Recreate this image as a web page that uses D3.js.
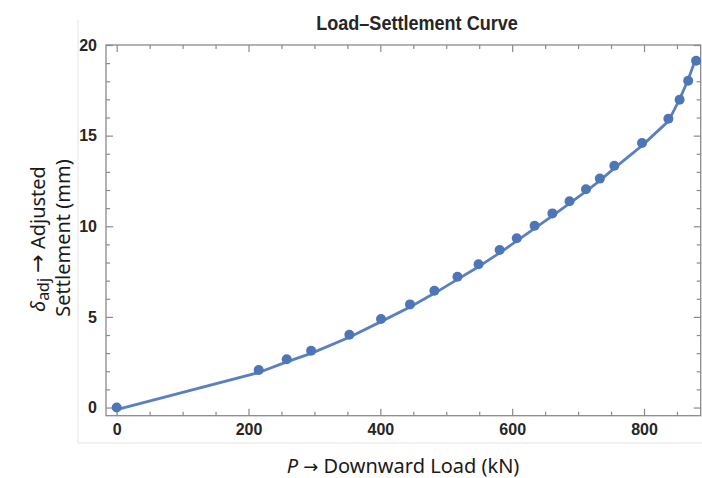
<!DOCTYPE html>
<html>
<head>
<meta charset="utf-8">
<script src="https://cdn.jsdelivr.net/npm/d3@7"></script>
<style>
  html, body { margin: 0; padding: 0; background: #fff; }
  svg { display: block; }
</style>
</head>
<body>
<svg id="chart" width="702" height="478"></svg>
<script>
// Measured load test: downward load P (kN) and adjusted settlement (mm)
const loads       = [0, 215.5, 258, 295, 353, 401, 445, 482, 517, 549, 581, 607, 634, 661, 687, 712, 733, 755, 797, 837, 854, 867, 879];
const settlements = [0, 2.07, 2.66, 3.13, 4.02, 4.88, 5.69, 6.44, 7.22, 7.90, 8.69, 9.34, 10.03, 10.71, 11.38, 12.04, 12.63, 13.34, 14.59, 15.93, 16.98, 18.03, 19.13];
// Fitted settlement curve at the same loads
const fitted      = [-0.11, 1.93, 2.52, 2.99, 3.88, 4.74, 5.55, 6.3, 7.07, 7.77, 8.53, 9.19, 9.88, 10.57, 11.26, 11.93, 12.52, 13.21, 14.45, 15.8, 17.0, 18.1, 19.3];

const xTicks = [0, 200, 400, 600, 800];
const yTicks = [0, 5, 10, 15, 20];
const xMinor = d3.range(0, 901, 50);
const yMinor = d3.range(0, 21, 1);

const svg = d3.select("#chart");
const plot = { left: 106, right: 700.7, top: 45, bottom: 415.7 };

const x = d3.scaleLinear().domain([-16.2, 886]).range([plot.left, plot.right]);
const y = d3.scaleLinear().domain([-0.45, 20]).range([plot.bottom, plot.top]);

const frameColor = "#8a8a8a";
const blue = "#5a80c0";
const dotBlue = "#4d76b9";
const tickFont = "'Liberation Sans', Arial, sans-serif";
const labelFont = "'Noto Sans', 'Open Sans', sans-serif";
const arrowFont = "'DejaVu Sans', sans-serif";

// faint panel border
svg.append("path")
  .attr("d", `M78,20 V443 H702`)
  .attr("fill", "none")
  .attr("stroke", "#e4e4e4")
  .attr("stroke-width", 1);

// plot frame
svg.append("rect")
  .attr("x", plot.left).attr("y", plot.top)
  .attr("width", plot.right - plot.left).attr("height", plot.bottom - plot.top)
  .attr("fill", "none")
  .attr("stroke", frameColor)
  .attr("stroke-width", 1.3);

function styleAxis(g) {
  g.select(".domain").remove();
  g.selectAll(".tick line").attr("stroke", frameColor).attr("stroke-width", 1.2);
  g.selectAll(".tick text")
    .attr("fill", "#262626")
    .attr("font-family", tickFont)
    .attr("font-weight", "bold")
    .attr("font-size", 16);
}

const notMajorX = xMinor.filter(v => xTicks.indexOf(v) < 0);
const notMajorY = yMinor.filter(v => yTicks.indexOf(v) < 0);

// minor ticks (all four sides)
svg.append("g").attr("transform", `translate(0,${plot.bottom})`)
  .call(d3.axisBottom(x).tickValues(notMajorX).tickSize(-4).tickFormat(""))
  .call(styleAxis);
svg.append("g").attr("transform", `translate(0,${plot.top})`)
  .call(d3.axisTop(x).tickValues(notMajorX).tickSize(-4).tickFormat(""))
  .call(styleAxis);
svg.append("g").attr("transform", `translate(${plot.left},0)`)
  .call(d3.axisLeft(y).tickValues(notMajorY).tickSize(-4).tickFormat(""))
  .call(styleAxis);
svg.append("g").attr("transform", `translate(${plot.right},0)`)
  .call(d3.axisRight(y).tickValues(notMajorY).tickSize(-4).tickFormat(""))
  .call(styleAxis);

// major ticks with labels
svg.append("g").attr("transform", `translate(0,${plot.bottom})`)
  .call(d3.axisBottom(x).tickValues(xTicks).tickSize(-7).tickPadding(8).tickFormat(d3.format("d")))
  .call(styleAxis);
svg.append("g").attr("transform", `translate(0,${plot.top})`)
  .call(d3.axisTop(x).tickValues(xTicks).tickSize(-7).tickFormat(""))
  .call(styleAxis);
svg.append("g").attr("transform", `translate(${plot.left},0)`)
  .call(d3.axisLeft(y).tickValues(yTicks).tickSize(-7).tickPadding(9).tickFormat(d3.format("d")))
  .call(styleAxis);
svg.append("g").attr("transform", `translate(${plot.right},0)`)
  .call(d3.axisRight(y).tickValues(yTicks).tickSize(-7).tickFormat(""))
  .call(styleAxis);

// fitted curve
const curveData = loads.map((p, i) => [p, fitted[i]]);
svg.append("path")
  .datum(curveData)
  .attr("fill", "none")
  .attr("stroke", blue)
  .attr("stroke-width", 2.8)
  .attr("stroke-linejoin", "round")
  .attr("d", d3.line().x(d => x(d[0])).y(d => y(d[1])));

// measured points
svg.append("g").selectAll("circle")
  .data(loads.map((p, i) => [p, settlements[i]]))
  .join("circle")
  .attr("cx", d => x(d[0]))
  .attr("cy", d => y(d[1]))
  .attr("r", 5)
  .attr("fill", dotBlue);

// title
svg.append("text")
  .attr("transform", `translate(417,30) scale(0.86,1)`)
  .attr("text-anchor", "middle")
  .attr("font-family", tickFont)
  .attr("font-weight", "bold")
  .attr("font-size", 21)
  .attr("fill", "#262626")
  .text("Load\u2013Settlement Curve");

// x axis label
const xl = svg.append("text")
  .attr("x", 403).attr("y", 473)
  .attr("text-anchor", "middle")
  .attr("font-family", labelFont)
  .attr("font-size", 20)
  .attr("fill", "#1a1a1a");
xl.append("tspan").attr("font-style", "italic").text("P");
xl.append("tspan").text(" ");
xl.append("tspan").attr("font-family", arrowFont).attr("font-size", 18).text("\u2192");
xl.append("tspan").text(" Downward Load (kN)");

// y axis label (two lines)
const yl = svg.append("text")
  .attr("transform", `translate(45,239) rotate(-90)`)
  .attr("text-anchor", "middle")
  .attr("font-family", labelFont)
  .attr("font-size", 20)
  .attr("fill", "#1a1a1a");
yl.append("tspan").attr("font-style", "italic").text("\u03B4");
yl.append("tspan").attr("font-size", 16).attr("dy", 4).text("adj");
yl.append("tspan").attr("dy", -4).text(" ");
yl.append("tspan").attr("font-family", arrowFont).attr("font-size", 22).text("\u2192");
yl.append("tspan").text(" Adjusted");

svg.append("text")
  .attr("transform", `translate(70,238) rotate(-90)`)
  .attr("text-anchor", "middle")
  .attr("font-family", labelFont)
  .attr("font-size", 20)
  .attr("fill", "#1a1a1a")
  .text("Settlement (mm)");
</script>
</body>
</html>
